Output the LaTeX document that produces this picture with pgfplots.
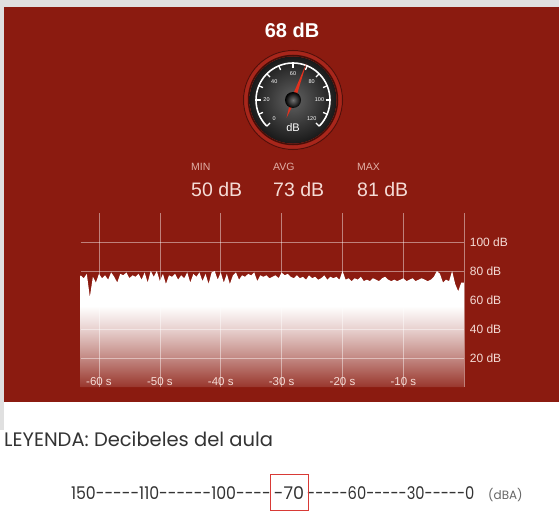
\documentclass[border=0pt]{standalone}
\usepackage{fontspec}
\setmainfont{Liberation Sans}
\newfontfamily\pop[Ligatures=TeXOff]{Poppins}
\usepackage{pgfplots}
\pgfplotsset{compat=1.18}

\definecolor{bgred}{HTML}{8B1B10}
\definecolor{ringred}{HTML}{A8261B}
\definecolor{needlered}{HTML}{E2321F}
\definecolor{lblc}{HTML}{E0AFA6}
\definecolor{valc}{HTML}{F5DCD6}
\definecolor{boxred}{HTML}{D83A36}

% fill fades from white (above ~55 dB) to the background red at 0 dB
\pgfdeclareverticalshading{dbfade}{100bp}{color(0bp)=(bgred!88!white); color(25bp)=(bgred!88!white); color(37.5bp)=(bgred!52!white); color(50bp)=(bgred!20!white); color(60bp)=(white); color(100bp)=(white)}

% sound level, one value every 0.5 s
\pgfplotstableread{
t v
-63.0 77
-62.5 75
-62.0 78
-61.5 62
-61.0 76
-60.5 72
-60.0 78
-59.5 75
-59.0 77
-58.5 74
-58.0 79
-57.5 76
-57.0 72
-56.5 78
-56.0 77
-55.5 79
-55.0 75
-54.5 77
-54.0 76
-53.5 78
-53.0 74
-52.5 79
-52.0 72
-51.5 80
-51.0 76
-50.5 80
-50.0 73
-49.5 78
-49.0 71
-48.5 77
-48.0 76
-47.5 78
-47.0 74
-46.5 77
-46.0 75
-45.5 79
-45.0 72
-44.5 78
-44.0 76
-43.5 79
-43.0 73
-42.5 78
-42.0 71
-41.5 79
-41.0 80
-40.5 74
-40.0 79
-39.5 72
-39.0 78
-38.5 71
-38.0 77
-37.5 79
-37.0 74
-36.5 77
-36.0 76
-35.5 78
-35.0 77
-34.5 79
-34.0 73
-33.5 77
-33.0 76
-32.5 77
-32.0 75
-31.5 76
-31.0 77
-30.5 75
-30.0 79
-29.5 77
-29.0 78
-28.5 76
-28.0 75
-27.5 77
-27.0 75
-26.5 76
-26.0 74
-25.5 77
-25.0 75
-24.5 76
-24.0 74
-23.5 75
-23.0 77
-22.5 74
-22.0 76
-21.5 75
-21.0 76
-20.5 74
-20.0 80
-19.5 74
-19.0 75
-18.5 73
-18.0 75
-17.5 74
-17.0 76
-16.5 73
-16.0 74
-15.5 73
-15.0 75
-14.5 74
-14.0 73
-13.5 75
-13.0 76
-12.5 74
-12.0 73
-11.5 74
-11.0 73
-10.5 74
-10.0 75
-9.5 73
-9.0 74
-8.5 75
-8.0 73
-7.5 74
-7.0 75
-6.5 74
-6.0 73
-5.5 74
-5.0 76
-4.5 80
-4.0 78
-3.5 72
-3.0 74
-2.5 73
-2.0 80
-1.5 71
-1.0 66
-0.5 72
0.0 72
}\dbdata

\begin{document}
\begin{tikzpicture}
% everything but the chart is laid out in pixel coordinates, y downwards
\begin{scope}[x=1pt,y=-1pt]
\path[use as bounding box] (0,0) rectangle (559,511);
\fill[white] (0,0) rectangle (559,511);
\fill[black!12] (0,0) rectangle (559,7);
\fill[black!12] (0,0) rectangle (4,430);
\fill[bgred] (4,7) rectangle (559,402);

% current level
\node[white, font=\bfseries\fontsize{20}{20}\selectfont] at (292,30) {68 dB};

% gauge
\begin{scope}[shift={(293,100)}, y=1pt]
  \fill[ringred] (0,0) circle (50);
  \draw[bgred!60!black, line width=1pt] (0,0) circle (49.5);
  \draw[bgred!50!black, line width=1.5pt] (0,0) circle (44.5);
  \shade[inner color=black!62, outer color=black!90] (0,0) circle (43.5);
  \draw[white, line width=1.6pt] (225:37) arc (225:-45:37);
  \foreach \v in {0,10,...,120} {
    \pgfmathsetmacro\a{225-2.25*\v}
    \draw[white, line width=1.3pt] (\a:37) -- (\a:32.5);
  }
  \foreach \v in {0,20,...,120} {
    \pgfmathsetmacro\a{225-2.25*\v}
    \node[white, font=\fontsize{5.5}{5.5}\selectfont, inner sep=0] at (\a:26.5) {\v};
  }
  \fill[needlered] (70:39) -- (160:2.2) -- (250:19) -- (-20:2.2) -- cycle;
  \shade[inner color=black!55, outer color=black] (0,0) circle (8);
  \node[white, font=\fontsize{11}{11}\selectfont] at (0,-28) {dB};
\end{scope}

% min / avg / max
\foreach \x/\l/\v in {191/MIN/50, 273/AVG/73, 357/MAX/81} {
  \node[anchor=base west, inner sep=0, text=lblc, font=\fontsize{10.5}{10.5}\selectfont] at (\x,170.5) {\l};
  \node[anchor=base west, inner sep=0, text=valc, font=\fontsize{19.5}{19.5}\selectfont] at (\x,196) {\v\ dB};
}

% legend below the screenshot
\node[anchor=base west, inner sep=0, text=black!80, font=\pop\fontsize{19.5}{19.5}\selectfont] at (4,446) {LEYENDA: Decibeles del aula};
\begin{scope}[font=\pop\fontsize{17.5}{17.5}\selectfont, text=black!80]
  \node[anchor=base east, inner sep=0] at (271,499) {\scalebox{0.9}[1]{150-----110------100----}};
  \node[anchor=base, inner sep=0] at (289,499) {-70};
  \node[anchor=base west, inner sep=0] at (307,499) {\scalebox{0.84}[1]{-----60-----30-----0}};
\end{scope}
\node[anchor=base west, inner sep=0, text=black!60, font=\pop\fontsize{12}{12}\selectfont] at (488,499) {(dBA)};
\draw[boxred, line width=1pt] (270,474) rectangle (308,510);
\end{scope}

\begin{axis}[
  at={(80.7pt,-387pt)}, anchor=south west,
  scale only axis, width=383.6pt, height=174pt,
  xmin=-63, xmax=0, ymin=0, ymax=120,
  axis line style={draw=none},
  axis on top,
  xtick={-60,-50,-40,-30,-20,-10},
  xticklabels={-60 s,-50 s,-40 s,-30 s,-20 s,-10 s},
  extra x ticks={0}, extra x tick labels={},
  ytick={20,40,60,80,100},
  yticklabels={20 dB,40 dB,60 dB,80 dB,100 dB},
  yticklabel pos=right,
  major tick length=0pt,
  grid=major,
  major grid style={white, opacity=0.45, line width=0.7pt},
  xticklabel style={anchor=center, yshift=5pt, text=valc, font=\fontsize{11.5}{11.5}\selectfont},
  yticklabel style={anchor=west, xshift=2pt, text=valc, font=\fontsize{12}{12}\selectfont},
]
\addplot[draw=none, shading=dbfade] table[x=t, y=v] {\dbdata} \closedcycle;
\end{axis}
\end{tikzpicture}
\end{document}
